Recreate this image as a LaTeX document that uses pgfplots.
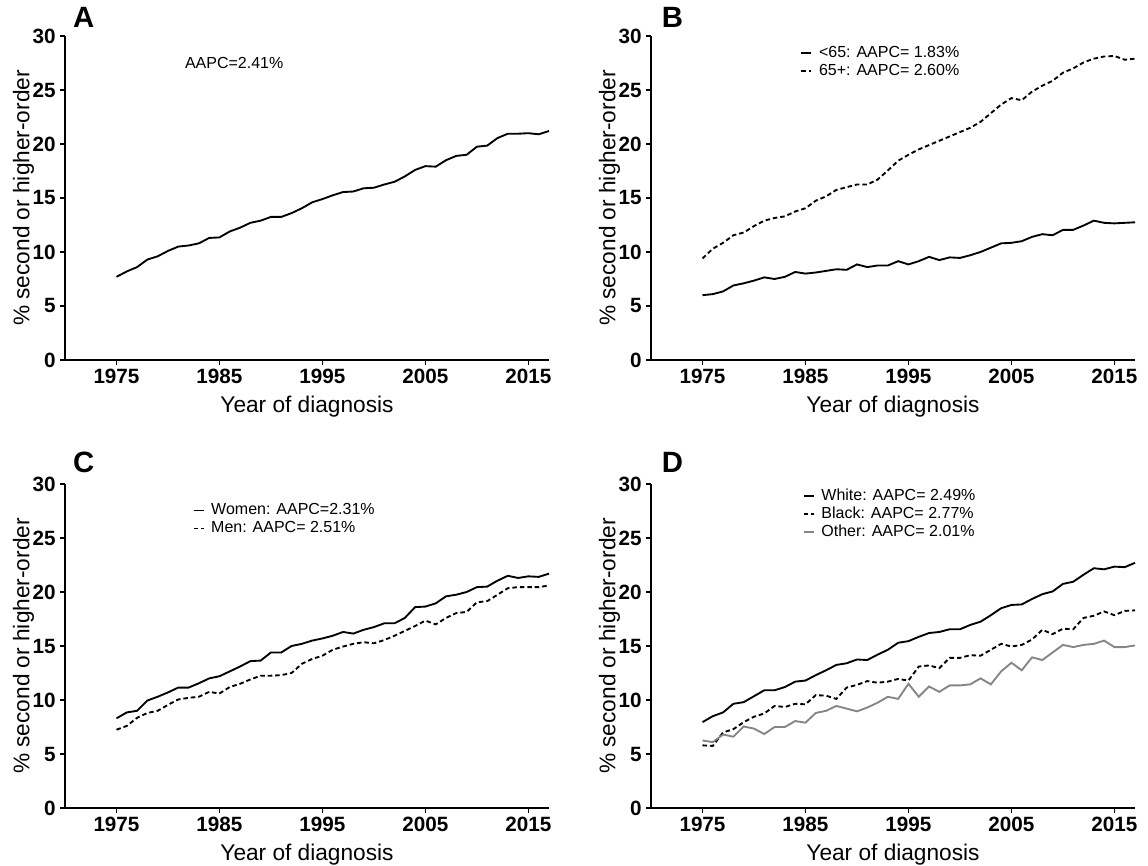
\documentclass[border=0pt]{standalone}
\usepackage{fontspec}
\setmainfont{Liberation Sans}
\usepackage{pgfplots}
\usepackage{pgfplotstable}
\pgfplotsset{compat=1.18}

\pgfplotstableread{
year v
1975 7.7
1976 8.2
1977 8.6
1978 9.3
1979 9.6
1980 10.1
1981 10.5
1982 10.6
1983 10.8
1984 11.3
1985 11.35
1986 11.9
1987 12.25
1988 12.7
1989 12.9
1990 13.25
1991 13.25
1992 13.6
1993 14.05
1994 14.6
1995 14.9
1996 15.25
1997 15.55
1998 15.6
1999 15.9
2000 15.95
2001 16.25
2002 16.5
2003 17.0
2004 17.6
2005 17.95
2006 17.9
2007 18.5
2008 18.9
2009 19.0
2010 19.75
2011 19.85
2012 20.55
2013 20.95
2014 20.95
2015 21.0
2016 20.9
2017 21.2
}\tabA

\pgfplotstableread{
year young old
1975 6.0 9.4
1976 6.1 10.3
1977 6.35 10.85
1978 6.9 11.55
1979 7.1 11.8
1980 7.35 12.4
1981 7.65 12.9
1982 7.5 13.15
1983 7.7 13.3
1984 8.15 13.75
1985 8.0 14.05
1986 8.1 14.75
1987 8.25 15.15
1988 8.4 15.75
1989 8.35 16.0
1990 8.85 16.25
1991 8.6 16.25
1992 8.75 16.7
1993 8.75 17.55
1994 9.15 18.45
1995 8.85 19.0
1996 9.15 19.5
1997 9.55 19.9
1998 9.25 20.3
1999 9.5 20.7
2000 9.45 21.1
2001 9.7 21.5
2002 10.0 22.05
2003 10.4 22.85
2004 10.8 23.65
2005 10.85 24.25
2006 11.0 24.05
2007 11.4 24.85
2008 11.65 25.4
2009 11.55 25.85
2010 12.05 26.6
2011 12.05 27.0
2012 12.45 27.55
2013 12.9 27.9
2014 12.7 28.1
2015 12.65 28.15
2016 12.7 27.8
2017 12.75 27.9
}\tabB

\pgfplotstableread{
year women men
1975 8.3 7.25
1976 8.85 7.6
1977 9.0 8.35
1978 9.95 8.8
1979 10.3 9.0
1980 10.7 9.55
1981 11.15 10.05
1982 11.15 10.2
1983 11.55 10.3
1984 12.0 10.75
1985 12.2 10.6
1986 12.65 11.2
1987 13.1 11.5
1988 13.6 11.9
1989 13.65 12.25
1990 14.4 12.25
1991 14.4 12.3
1992 15.0 12.5
1993 15.2 13.35
1994 15.5 13.8
1995 15.7 14.1
1996 15.95 14.65
1997 16.3 14.95
1998 16.15 15.2
1999 16.5 15.35
2000 16.75 15.25
2001 17.1 15.55
2002 17.1 15.95
2003 17.6 16.4
2004 18.6 16.85
2005 18.65 17.35
2006 18.95 17.0
2007 19.6 17.6
2008 19.75 18.05
2009 20.0 18.15
2010 20.45 19.05
2011 20.5 19.15
2012 21.05 19.75
2013 21.5 20.35
2014 21.3 20.45
2015 21.45 20.45
2016 21.4 20.45
2017 21.7 20.6
}\tabC

\pgfplotstableread{
year white black other
1975 7.95 5.8 6.25
1976 8.5 5.75 6.1
1977 8.85 7.0 6.8
1978 9.65 7.3 6.6
1979 9.8 7.95 7.55
1980 10.35 8.45 7.35
1981 10.9 8.75 6.85
1982 10.9 9.45 7.5
1983 11.2 9.35 7.5
1984 11.7 9.65 8.05
1985 11.8 9.6 7.9
1986 12.3 10.45 8.8
1987 12.75 10.4 9.0
1988 13.25 10.1 9.45
1989 13.4 11.15 9.2
1990 13.75 11.4 8.95
1991 13.7 11.75 9.3
1992 14.2 11.6 9.75
1993 14.65 11.7 10.3
1994 15.3 11.95 10.1
1995 15.45 11.8 11.5
1996 15.85 13.1 10.3
1997 16.2 13.2 11.25
1998 16.3 12.95 10.75
1999 16.55 13.9 11.35
2000 16.55 13.9 11.35
2001 16.95 14.15 11.45
2002 17.25 14.1 12.0
2003 17.85 14.65 11.45
2004 18.5 15.2 12.65
2005 18.8 14.95 13.45
2006 18.85 15.1 12.75
2007 19.35 15.6 13.95
2008 19.8 16.5 13.7
2009 20.05 16.1 14.4
2010 20.75 16.6 15.1
2011 20.95 16.55 14.9
2012 21.6 17.6 15.1
2013 22.2 17.8 15.2
2014 22.1 18.2 15.5
2015 22.35 17.85 14.9
2016 22.3 18.25 14.9
2017 22.7 18.3 15.05
}\tabD

\definecolor{othergray}{HTML}{858585}

\pgfplotsset{
  panel/.style={
    scale only axis, width=363pt, height=243pt,
    xmin=1970, xmax=2017, ymin=0, ymax=30,
    axis x line=bottom, axis y line=left,
    axis line style={-, line width=1.8pt},
    xtick={1975,1985,...,2015}, ytick={0,5,...,30},
    tick align=outside, major tick length=3.5pt,
    tick style={line width=1.1pt, black},
    /pgf/number format/1000 sep={},
    /pgf/number format/assume math mode=true,
    ticklabel style={font=\bfseries\fontsize{15.5}{16}\selectfont},
    xlabel={Year of diagnosis}, ylabel={\% second or higher-order},
    label style={font=\fontsize{17}{18}\selectfont},
    xlabel style={yshift=-2pt},
    ylabel shift=-8pt,
    clip=false,
    legend cell align=left,
    legend image code/.code={\draw[##1] (0pt,0pt) -- (7.5pt,0pt);},
    legend style={draw=none, fill=none, anchor=north west,
      font=\fontsize{12}{13}\selectfont, row sep=0pt, column sep=4pt,
      nodes={inner sep=1pt, text height=9pt, text depth=2.5pt}},
  },
  dat/.style={line width=1.4pt, black},
  dsh/.style={line width=1.4pt, black, dash pattern=on 3.4pt off 2.2pt},
}

\begin{document}
\begin{tikzpicture}
\useasboundingbox (0,0) rectangle (861pt,649.5pt);

% Panel A
\begin{axis}[panel, at={(48.75pt,379.5pt)}, anchor=south west]
\addplot[dat] table[x=year, y=v] {\tabA};
\node[anchor=west, font=\fontsize{12}{12}\selectfont] at (axis cs:1981.2,27.5) {AAPC=2.41\%};
\node[font=\bfseries\fontsize{22}{22}\selectfont] at ([xshift=14pt,yshift=14pt]rel axis cs:0,1) {A};
\end{axis}

% Panel B
\begin{axis}[panel, at={(488.25pt,379.5pt)}, anchor=south west,
  legend style={at={(0.30,0.985)}}]
\addplot[dat] table[x=year, y=young] {\tabB};
\addlegendentry{<65: AAPC= 1.83\%}
\addplot[dsh] table[x=year, y=old] {\tabB};
\addlegendentry{65+: AAPC= 2.60\%}
\node[font=\bfseries\fontsize{22}{22}\selectfont] at ([xshift=16pt,yshift=14pt]rel axis cs:0,1) {B};
\end{axis}

% Panel C
\begin{axis}[panel, at={(48.75pt,43.5pt)}, anchor=south west,
  legend style={at={(0.255,0.955)}}]
\addplot[dat] table[x=year, y=women] {\tabC};
\addlegendentry{Women: AAPC=2.31\%}
\addplot[dsh] table[x=year, y=men] {\tabC};
\addlegendentry{Men: AAPC= 2.51\%}
\node[font=\bfseries\fontsize{22}{22}\selectfont] at ([xshift=14pt,yshift=16pt]rel axis cs:0,1) {C};
\end{axis}

% Panel D
\begin{axis}[panel, at={(488.25pt,43.5pt)}, anchor=south west,
  legend style={at={(0.305,1.0)}}]
\addplot[dat] table[x=year, y=white] {\tabD};
\addlegendentry{White: AAPC= 2.49\%}
\addplot[dsh] table[x=year, y=black] {\tabD};
\addlegendentry{Black: AAPC= 2.77\%}
\addplot[line width=1.4pt, othergray] table[x=year, y=other] {\tabD};
\addlegendentry{Other: AAPC= 2.01\%}
\node[font=\bfseries\fontsize{22}{22}\selectfont] at ([xshift=16pt,yshift=16pt]rel axis cs:0,1) {D};
\end{axis}
\end{tikzpicture}
\end{document}
